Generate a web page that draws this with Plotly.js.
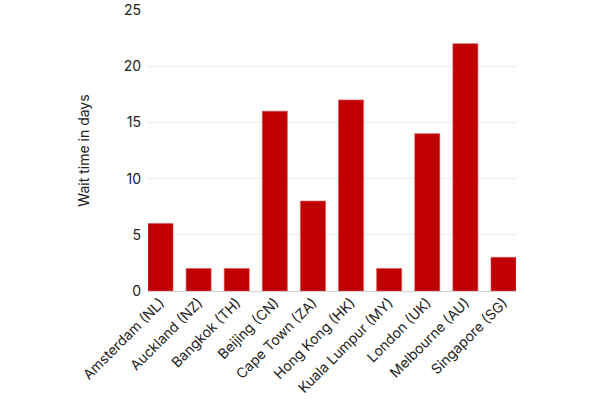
<!DOCTYPE html>
<html><head><meta charset="utf-8">
<script src="https://cdn.plot.ly/plotly-3.0.1.min.js"></script>
<style>html,body{margin:0;padding:0;background:#fff}#chart{width:600px;height:400px}</style>
</head><body><div id="chart"></div>
<script>
const cities = ["Amsterdam (NL)","Auckland (NZ)","Bangkok (TH)","Beijing (CN)","Cape Town (ZA)","Hong Kong (HK)","Kuala Lumpur (MY)","London (UK)","Melbourne (AU)","Singapore (SG)"];
const waitDays = [6,2,2,16,8,17,2,14,22,3];
const yTicks = [0,5,10,15,20,25];

Plotly.newPlot('chart',[{
  type:'bar', x:cities, y:waitDays,
  marker:{color:'#c00000', line:{color:'#d95050', width:0.6}},
  hoverinfo:'x+y'
}],{
  width:600,height:400,
  margin:{l:148,r:84,t:10,b:109},
  paper_bgcolor:'#fff',plot_bgcolor:'#fff',
  font:{family:'Inter, "Open Sans", sans-serif',size:14,color:'#222'},
  bargap:0.343,
  showlegend:false,
  xaxis:{range:[-0.3285,9.3285],tickangle:-45,showgrid:false,showline:false,zeroline:false,ticks:'',tickfont:{size:14}},
  yaxis:{range:[0,25],tickvals:yTicks,showgrid:true,gridcolor:'#ececec',zeroline:true,zerolinecolor:'#d0d0d0',
    ticks:'',ticklabelstandoff:6,tickfont:{size:14},
    title:{text:'Wait time in days',font:{size:14},standoff:30}}
},{displayModeBar:false});
</script></body></html>
